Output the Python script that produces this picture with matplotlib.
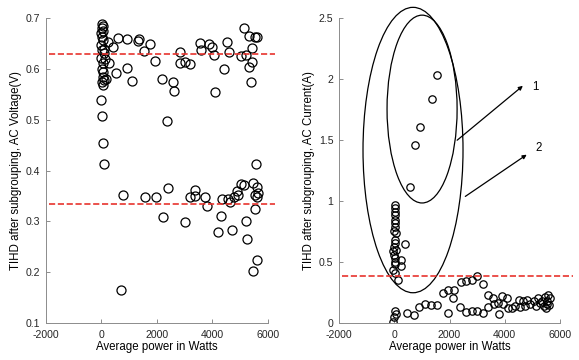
import matplotlib.pyplot as plt
from matplotlib.patches import Ellipse

plt.rcParams['font.family'] = ['Liberation Sans', 'DejaVu Sans']
plt.rcParams['axes.unicode_minus'] = False

# left panel: voltage THD
volt_x = [30, 60, 10, 40, -10, 20, 50, 0, 30, 80, -20, 60, 10, 40, 70, 100, 20, 50,
          0, 30, 60, 80, 234, 270, 130, 150, 100,
          414, 522, 595, 919, 919, 1100, 1330, 1350, 1530, 1750, 1930, 2180, 2360,
          2580, 2610, 2830, 2830, 3010, 3190, 3550, 3590, 3870, 3980, 4050, 4090,
          4410, 4520, 4590, 5020, 5140, 5200, 5320, 5320, 5390, 5430, 5430, 5530,
          5600, 5570,
          700, 775, 1570, 1960, 2220, 2400, 3010, 3190, 3370, 3370, 3730, 3800,
          4200, 4310, 4340, 4560, 4630, 4700, 4770, 4880, 4920, 5020, 5140, 5200,
          5240, 5450, 5450, 5530, 5600, 5530, 5600, 5600, 5640]
volt_y = [0.688, 0.684, 0.680, 0.674, 0.670, 0.663, 0.657, 0.647, 0.637, 0.631, 0.621,
          0.611, 0.600, 0.594, 0.584, 0.578, 0.574, 0.568, 0.539, 0.507, 0.454, 0.413,
          0.653, 0.611, 0.620, 0.580, 0.640,
          0.643, 0.592, 0.660, 0.658, 0.601, 0.576, 0.655, 0.658, 0.635, 0.649, 0.616,
          0.580, 0.497, 0.574, 0.556, 0.633, 0.611, 0.613, 0.609, 0.651, 0.637, 0.649,
          0.643, 0.627, 0.554, 0.600, 0.653, 0.633, 0.625, 0.680, 0.627, 0.665, 0.604,
          0.574, 0.613, 0.641, 0.663, 0.663, 0.413,
          0.165, 0.352, 0.348, 0.348, 0.308, 0.365, 0.298, 0.348, 0.361, 0.350, 0.348,
          0.330, 0.279, 0.310, 0.344, 0.344, 0.338, 0.283, 0.348, 0.360, 0.352, 0.373,
          0.371, 0.300, 0.265, 0.375, 0.202, 0.324, 0.224, 0.352, 0.367, 0.348, 0.356]
volt_means = [0.630, 0.335]

# right panel: current THD
curr_x = [1547, 1367, 930, 750, 570,
          20, 40, 30, 10, 20, 40, -20, 60, 30, 40, 400, -20, -30, 0, 40, 250, 10,
          40, 250, -30, 40, 150, 30, 60,
          -30, 0, 30, 60,
          460, 710, 900, 1110, 1330, 1540, 1760, 1940, 1940, 2160, 2130, 2420, 2380,
          2600, 2600, 2820, 2820, 3000, 3000, 3210, 3210, 3390, 3390, 3570, 3610,
          3750, 3790, 3900, 3940, 4080, 4110, 4260, 4370, 4510, 4550, 4660, 4730,
          4800, 4910, 5060, 5130, 5200, 5280, 5350, 5460, 5490, 5530, 5570, 5600,
          5640, 5530, 5420]
curr_y = [2.033, 1.836, 1.607, 1.459, 1.115,
          0.967, 0.943, 0.910, 0.885, 0.844, 0.820, 0.754, 0.738, 0.680, 0.656, 0.648,
          0.623, 0.590, 0.557, 0.533, 0.516, 0.500, 0.484, 0.467, 0.434, 0.410, 0.352,
          0.790, 0.600,
          0.008, 0.049, 0.098, 0.070,
          0.082, 0.066, 0.131, 0.156, 0.148, 0.148, 0.246, 0.082, 0.270, 0.270, 0.205,
          0.336, 0.131, 0.344, 0.090, 0.352, 0.098, 0.385, 0.098, 0.320, 0.082, 0.230,
          0.131, 0.205, 0.156, 0.164, 0.074, 0.221, 0.156, 0.205, 0.123, 0.123, 0.139,
          0.189, 0.131, 0.180, 0.139, 0.189, 0.156, 0.180, 0.139, 0.205, 0.164, 0.180,
          0.213, 0.123, 0.180, 0.230, 0.148, 0.205, 0.156, 0.139]
curr_mean = 0.385

xticks = [-2000, 0, 2000, 4000, 6000]

fig = plt.figure(figsize=(5.79, 3.6), dpi=100)
ax1 = fig.add_axes([0.0794, 0.1028, 0.3834, 0.847])
ax2 = fig.add_axes([0.5855, 0.1028, 0.3817, 0.847])

ax1.plot(volt_x, volt_y, 'o', mfc='none', mec='k', ms=6.5, mew=0.9)
for m in volt_means:
    ax1.plot([-1900, 6250], [m, m], '--', color='#e8332e', lw=1.2, clip_on=False)
ax1.set_ylim(0.1, 0.7)
ax1.set_yticks([0.1, 0.2, 0.3, 0.4, 0.5, 0.6, 0.7])
ax1.set_ylabel('TIHD after subgrouping, AC Voltage(V)', fontsize=8.3, labelpad=3)

ax2.plot(curr_x, curr_y, 'o', mfc='none', mec='k', ms=5.3, mew=0.9)
ax2.plot([-1900, 6480], [curr_mean, curr_mean], '--', color='#e8332e', lw=1.2, clip_on=False)
ax2.add_patch(Ellipse((679, 1.418), 3620, 2.34, fill=False, ec='k', lw=0.9, clip_on=False))
ax2.add_patch(Ellipse((1007, 1.754), 2536, 1.54, fill=False, ec='k', lw=0.9, clip_on=False))
ax2.annotate('', xy=(4733, 1.959), xytext=(2199, 1.484),
             arrowprops=dict(arrowstyle='-|>', color='k', lw=0.9, mutation_scale=6),
             annotation_clip=False)
ax2.annotate('', xy=(4878, 1.393), xytext=(2489, 1.025),
             arrowprops=dict(arrowstyle='-|>', color='k', lw=0.9, mutation_scale=6),
             annotation_clip=False)
ax2.text(5000, 1.934, '1', fontsize=8.3, va='center', ha='left')
ax2.text(5110, 1.434, '2', fontsize=8.3, va='center', ha='left')
ax2.set_ylim(0, 2.5)
ax2.set_yticks([0, 0.5, 1, 1.5, 2, 2.5])
ax2.set_yticklabels(['0', '0.5', '1', '1.5', '2', '2.5'])
ax2.set_ylabel('TIHD after subgrouping, AC Current(A)', fontsize=8.3, labelpad=3)

for ax in (ax1, ax2):
    ax.set_xlim(-2000, 6000)
    ax.set_xticks(xticks)
    ax.set_xlabel('Average power in Watts', fontsize=8.3, labelpad=1)
    ax.spines['top'].set_visible(False)
    ax.spines['right'].set_visible(False)
    for s in ('left', 'bottom'):
        ax.spines[s].set_color('#8c8c8c')
        ax.spines[s].set_linewidth(0.7)
    ax.tick_params(direction='in', length=3, width=0.7, color='#8c8c8c',
                   labelsize=7.6, labelcolor='#262626')
    ax.tick_params(axis='x', pad=5)
    ax.tick_params(axis='y', pad=4)

fig.savefig('out.png', dpi=100)
